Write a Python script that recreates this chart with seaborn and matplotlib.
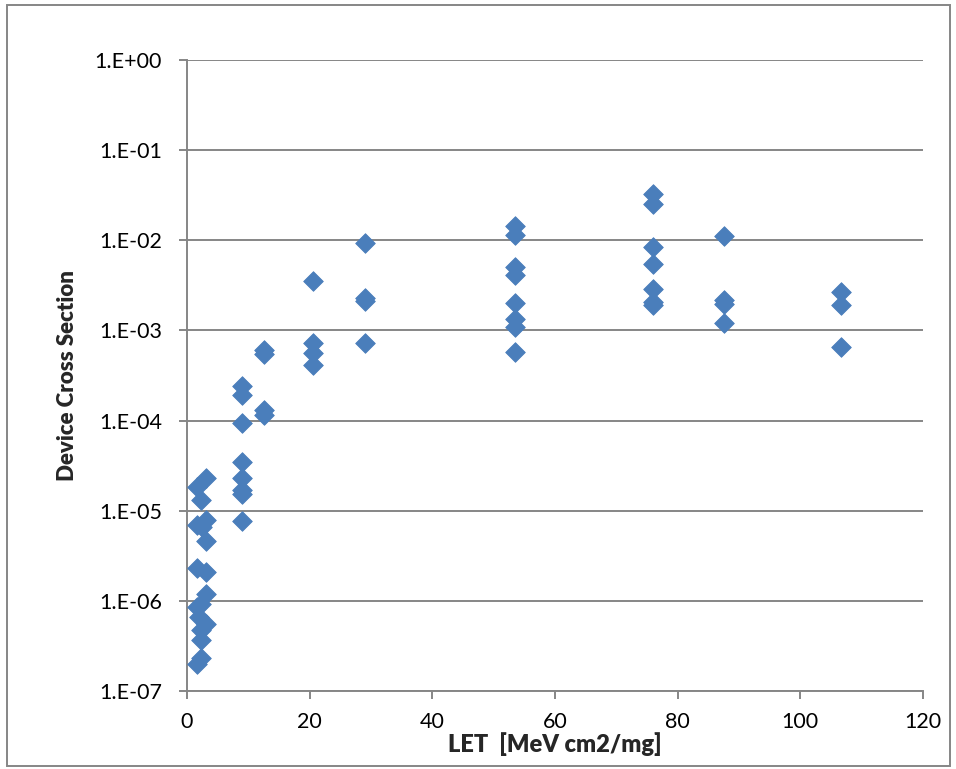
import matplotlib
matplotlib.use("Agg")
import matplotlib.pyplot as plt
from matplotlib.patches import Rectangle
from matplotlib.ticker import FixedLocator, FuncFormatter, NullLocator
import numpy as np
import pandas as pd
import seaborn as sns

# ---- data ----
let_values = [
    3.1, 1.7, 2.3, 3.1, 1.7, 2.5, 3.1, 1.7, 3.1, 3.1, 2.3, 1.7, 2.0, 3.1, 2.3, 2.3, 2.3, 1.7,
    9.0, 9.0, 9.0, 9.0, 9.0, 9.0, 9.0, 9.0,
    12.6, 12.6, 12.6, 12.6,
    20.6, 20.6, 20.6, 20.6,
    29.1, 29.1, 29.1, 29.1,
    53.5, 53.5, 53.5, 53.5, 53.5, 53.5, 53.5, 53.5,
    75.9, 75.9, 75.9, 75.9, 75.9, 75.9, 75.9,
    87.6, 87.6, 87.6, 87.6,
    106.6, 106.6, 106.6,
]
cross_section = [
    2.3e-5, 1.83e-5, 1.31e-5, 7.9e-6, 6.9e-6, 6.6e-6, 4.6e-6, 2.3e-6, 2.1e-6, 1.19e-6,
    9.2e-7, 8.5e-7, 6.6e-7, 5.5e-7, 4.75e-7, 3.7e-7, 2.35e-7, 2.0e-7,
    2.4e-4, 1.9e-4, 9.3e-5, 3.5e-5, 2.3e-5, 1.7e-5, 1.55e-5, 7.6e-6,
    6.0e-4, 5.5e-4, 1.31e-4, 1.15e-4,
    3.5e-3, 7.3e-4, 5.6e-4, 4.1e-4,
    9.4e-3, 2.3e-3, 2.1e-3, 7.2e-4,
    1.45e-2, 1.15e-2, 5.1e-3, 4.1e-3, 2.0e-3, 1.35e-3, 1.08e-3, 5.8e-4,
    3.3e-2, 2.5e-2, 8.5e-3, 5.5e-3, 2.9e-3, 2.05e-3, 1.9e-3,
    1.12e-2, 2.2e-3, 1.95e-3, 1.2e-3,
    2.7e-3, 1.9e-3, 6.6e-4,
]
x_ticks = [0, 20, 40, 60, 80, 100, 120]
y_ticks = [1e-7, 1e-6, 1e-5, 1e-4, 1e-3, 1e-2, 1e-1, 1e0]
y_tick_labels = ["1.E-07", "1.E-06", "1.E-05", "1.E-04", "1.E-03", "1.E-02", "1.E-01", "1.E+00"]
x_label = "LET  [MeV cm2/mg]"
y_label = "Device Cross Section"

df = pd.DataFrame({"LET": let_values, "CS": cross_section})

sns.set_style("white")
plt.rcParams["font.family"] = ["Lato", "DejaVu Sans"]

W, H = 956, 769
fig = plt.figure(figsize=(W / 100, H / 100), dpi=100)
ax = fig.add_axes([187 / W, 1 - 691 / H, (923 - 187) / W, (691 - 60) / H])

grey = "#868686"
blue = "#4A7EBB"

ax.set_yscale("log")
ax.set_xlim(0, 120)
ax.set_ylim(1e-7, 1e0)
ax.yaxis.set_major_locator(FixedLocator(y_ticks))
ax.yaxis.set_minor_locator(NullLocator())
ax.yaxis.set_major_formatter(FuncFormatter(
    lambda v, p: y_tick_labels[int(np.argmin([abs(np.log10(t) - np.log10(v)) for t in y_ticks]))]))
ax.set_xticks(x_ticks)

ax.grid(axis="y", color=grey, linewidth=1.4, zorder=0)
ax.set_axisbelow(True)

sns.scatterplot(data=df, x="LET", y="CS", ax=ax, marker="D", s=100,
                color=blue, edgecolor=blue, linewidth=0.6, zorder=3, legend=False)

for side in ["top", "right"]:
    ax.spines[side].set_visible(False)
for side in ["left", "bottom"]:
    ax.spines[side].set_color(grey)
    ax.spines[side].set_linewidth(1.4)
ax.tick_params(axis="both", which="major", direction="out", length=6, width=1.4,
               color=grey, labelsize=15.5, labelcolor="black", left=True, bottom=True)
ax.tick_params(axis="y", pad=12)
ax.tick_params(axis="x", pad=9)

ax.set_xlabel(x_label, fontsize=17, fontweight="heavy", labelpad=0)
ax.set_ylabel(y_label, fontsize=16, fontweight="heavy", labelpad=12)

fig.patches.append(Rectangle((7 / W, 1 - 766 / H), (950 - 7) / W, (766 - 5) / H,
                             transform=fig.transFigure, fill=False, edgecolor=grey,
                             linewidth=1.4, zorder=0))

fig.savefig("out.png", dpi=100)
